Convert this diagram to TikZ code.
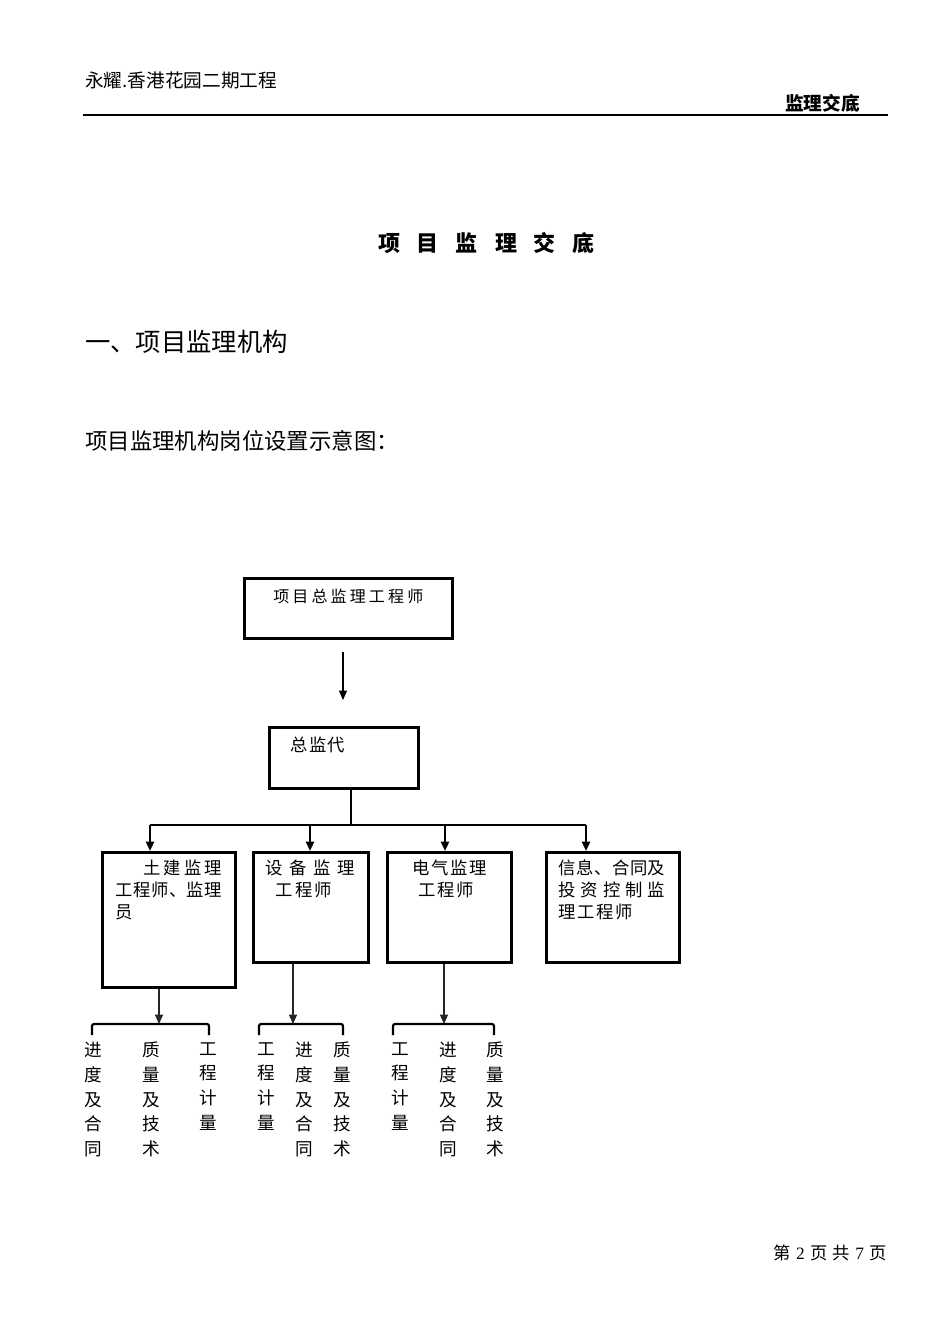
\documentclass[tikz,border=0pt]{standalone}
\usepackage{fontspec}
\setmainfont{Liberation Serif}
\newfontfamily\cjk{Noto Sans CJK SC}
\usetikzlibrary{arrows.meta}
\newcommand\spreadbox[2]{\makebox[#1][s]{#2}}
\begin{document}
\begin{tikzpicture}[x=0.75pt,y=-0.75pt,
  box/.style={draw, line width=1.9pt, inner sep=0pt, anchor=north west},
  txt/.style={inner sep=0pt, anchor=west, font=\cjk\fontsize{13}{15}\selectfont},
  col/.style={inner sep=0pt, anchor=north, align=center, font=\cjk\fontsize{13.2}{18.5}\selectfont},
  thickline/.style={line width=1.6pt},
  thinline/.style={line width=0.8pt, black!85},
  tip/.style={-{Triangle[length=7pt,width=6pt]}},
  bracket/.style={line width=1.6pt, rounded corners=1.5pt}]
\useasboundingbox[fill=white] (0,0) rectangle (950,1344);

% header
\node[inner sep=0pt, anchor=west, font=\cjk\fontsize{14}{16}\selectfont] (hl) at (85,80) {永耀.香港花园二期工程};
\node[inner sep=0pt, anchor=east, font=\cjk\bfseries\fontsize{14}{16}\selectfont] (hr) at (860,103) {监理交底};
\coordinate (hline1) at (83,115);
\coordinate (hline2) at (888,115);
\draw[line width=1.1pt] (hline1) -- (hline2);

% title
\node[inner sep=0pt, font=\cjk\bfseries\fontsize{16.5}{18}\selectfont] (title) at (486.5,243) {\spreadbox{162.75pt}{项\hfill 目\hfill 监\hfill 理\hfill 交\hfill 底}};
\node[inner sep=0pt, anchor=west, font=\cjk\fontsize{19}{22}\selectfont] (sec) at (85,342) {一、项目监理机构};
\node[inner sep=0pt, anchor=west, font=\cjk\fontsize{16.8}{18}\selectfont] (cap) at (85,441) {项目监理机构岗位设置示意图：};

% boxes
\node[box, minimum width=156pt, minimum height=45pt] (b1) at (243,577) {};
\node[box, minimum width=111.75pt, minimum height=45.75pt] (b2) at (268,726) {};
\node[box, minimum width=99.75pt, minimum height=101.25pt] (b3) at (101,851) {};
\node[box, minimum width=86.25pt, minimum height=82.5pt] (b4) at (252,851) {};
\node[box, minimum width=93pt, minimum height=82.5pt] (b5) at (386,851) {};
\node[box, minimum width=99.75pt, minimum height=82.5pt] (b6) at (545,851) {};

% box texts
\node[txt, font=\cjk\fontsize{12}{14}\selectfont] (t1) at (273,596) {\spreadbox{112.5pt}{项\hfill 目\hfill 总\hfill 监\hfill 理\hfill 工\hfill 程\hfill 师}};
\node[txt] (t2) at (290,745) {\spreadbox{41.25pt}{总\hfill 监\hfill 代}};
\node[txt] (t3a) at (143,868) {\spreadbox{59.25pt}{土\hfill 建\hfill 监\hfill 理}};
\node[txt] (t3b) at (115,890) {\spreadbox{80.25pt}{工\hfill 程\hfill 师\hfill 、\hfill 监\hfill 理}};
\node[txt] (t3c) at (115,912) {员};
\node[txt] (t4a) at (265,868) {\spreadbox{67.5pt}{设\hfill 备\hfill 监\hfill 理}};
\node[txt] (t4b) at (275,890) {\spreadbox{42.75pt}{工\hfill 程\hfill 师}};
\node[txt] (t5a) at (412,868) {\spreadbox{56.25pt}{电\hfill 气\hfill 监\hfill 理}};
\node[txt] (t5b) at (418,890) {\spreadbox{42pt}{工\hfill 程\hfill 师}};
\node[txt] (t6a) at (558,868) {\spreadbox{80.25pt}{信\hfill 息\hfill 、\hfill 合\hfill 同\hfill 及}};
\node[txt] (t6b) at (558,890) {\spreadbox{80.25pt}{投\hfill 资\hfill 控\hfill 制\hfill 监}};
\node[txt] (t6c) at (558,912) {\spreadbox{56.25pt}{理\hfill 工\hfill 程\hfill 师}};

% connectors
\coordinate (a1s) at (343,652);
\coordinate (a1e) at (343,700);
\draw[thinline, black, tip] (a1s) -- (a1e);
\coordinate (d2) at (351,825);
\draw[thickline] (b2.south -| d2) -- (d2);
\coordinate (bus1) at (150,825);
\coordinate (bus2) at (310,825);
\coordinate (bus3) at (445,825);
\coordinate (bus4) at (586,825);
\draw[thickline] (bus1) -- (bus4);
\draw[thickline, tip] (bus1) -- (bus1 |- b3.north);
\draw[thickline, tip] (bus2) -- (bus2 |- b4.north);
\draw[thickline, tip] (bus3) -- (bus3 |- b5.north);
\draw[thickline, tip] (bus4) -- (bus4 |- b6.north);

% lower level
\coordinate (g1) at (159,1024);
\coordinate (g2) at (293,1024);
\coordinate (g3) at (444,1024);
\draw[thinline, tip] (b3.south -| g1) -- (g1);
\draw[thinline, tip] (b4.south -| g2) -- (g2);
\draw[thinline, tip] (b5.south -| g3) -- (g3);
\draw[bracket] (92,1035) -- (92,1024) -- (209,1024) -- (209,1035);
\draw[bracket] (259,1035) -- (259,1024) -- (343,1024) -- (343,1035);
\draw[bracket] (393,1035) -- (393,1024) -- (494,1024) -- (494,1035);

\node[col] (c11) at (93,1042) {进\\度\\及\\合\\同};
\node[col] (c12) at (151,1042) {质\\量\\及\\技\\术};
\node[col] (c13) at (208,1042) {工\\程\\计\\量};
\node[col] (c21) at (266,1042) {工\\程\\计\\量};
\node[col] (c22) at (304,1042) {进\\度\\及\\合\\同};
\node[col] (c23) at (342,1042) {质\\量\\及\\技\\术};
\node[col] (c31) at (400,1042) {工\\程\\计\\量};
\node[col] (c32) at (448,1042) {进\\度\\及\\合\\同};
\node[col] (c33) at (495,1042) {质\\量\\及\\技\\术};

% footer
\node[inner sep=0pt, anchor=east, font=\fontsize{13}{15}\selectfont] (foot) at (887,1253) {{\cjk 第}\hspace{4pt}2\hspace{4pt}{\cjk 页}\hspace{4pt}{\cjk 共}\hspace{4pt}7\hspace{4pt}{\cjk 页}};
\end{tikzpicture}
\end{document}
